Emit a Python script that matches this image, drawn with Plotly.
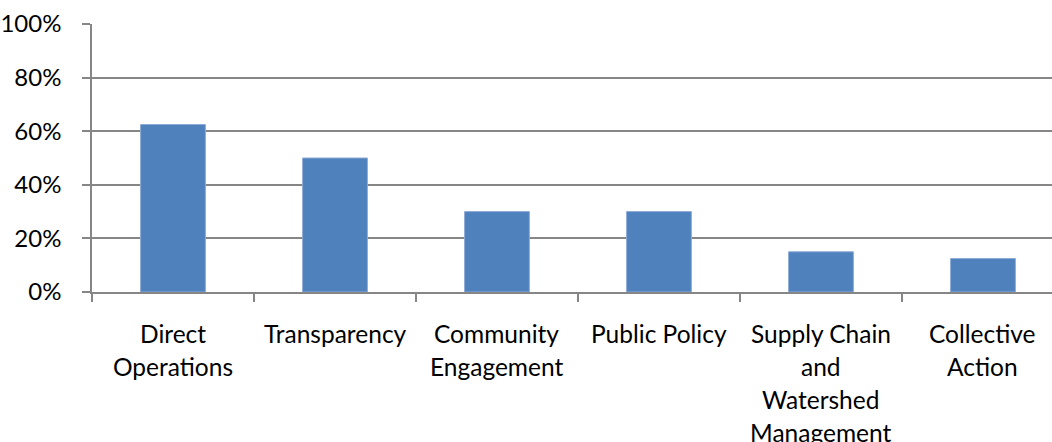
import plotly.graph_objects as go

categories = ["Direct Operations", "Transparency", "Community Engagement",
              "Public Policy", "Supply Chain and Watershed Management", "Collective Action"]
label_lines = [["Direct", "Operations"], ["Transparency"], ["Community", "Engagement"],
               ["Public Policy"], ["Supply Chain", "and", "Watershed", "Management"],
               ["Collective", "Action"]]
values = [0.625, 0.50, 0.30, 0.30, 0.15, 0.125]
y_ticks = [0, 0.2, 0.4, 0.6, 0.8, 1.0]
y_tick_text = ["0%", "20%", "40%", "60%", "80%", "100%"]

FONT = "Lato"
FS = 24.5
GRID = "#868686"

n = len(categories)
fig = go.Figure()
fig.add_trace(go.Bar(
    x=list(range(n)), y=values,
    width=0.4,
    marker=dict(color="#4F81BD", line=dict(color="#8EAAD6", width=1)),
    hoverinfo="skip",
))

annotations = []
for i, lines in enumerate(label_lines):
    for j, line in enumerate(lines):
        annotations.append(dict(
            x=i, y=0, xref="x", yref="paper", text=line, showarrow=False,
            xanchor="center", yanchor="middle", yshift=-41 - 33.3 * j,
            font=dict(family=FONT, size=FS, color="#000000"),
        ))

fig.update_layout(
    width=1052, height=442,
    margin=dict(l=92, r=0, t=23.5, b=150.3, pad=0),
    paper_bgcolor="white", plot_bgcolor="white",
    showlegend=False,
    annotations=annotations,
    font=dict(family=FONT, size=FS, color="#000000"),
)
fig.update_xaxes(
    range=[-0.5, 5.426], tickvals=[i - 0.5 for i in range(n + 1)], ticktext=[""] * (n + 1),
    ticks="outside", ticklen=8, tickcolor=GRID, tickwidth=1.5,
    showline=True, linecolor=GRID, linewidth=1.5, showgrid=False, zeroline=False,
    automargin=False,
)
fig.update_yaxes(
    range=[0, 1.0], tickvals=y_ticks, ticktext=y_tick_text,
    ticks="outside", ticklen=8, tickcolor=GRID, tickwidth=1.5, ticklabelstandoff=16,
    showgrid=True, gridcolor=GRID, gridwidth=1.5,
    showline=True, linecolor=GRID, linewidth=1.5, zeroline=False,
    tickfont=dict(family=FONT, size=24, color="#000000"),
    automargin=False,
)
fig.write_html("out.html", config={"displayModeBar": False},
               post_script="document.body.style.margin='0';document.body.style.overflow='hidden';")
